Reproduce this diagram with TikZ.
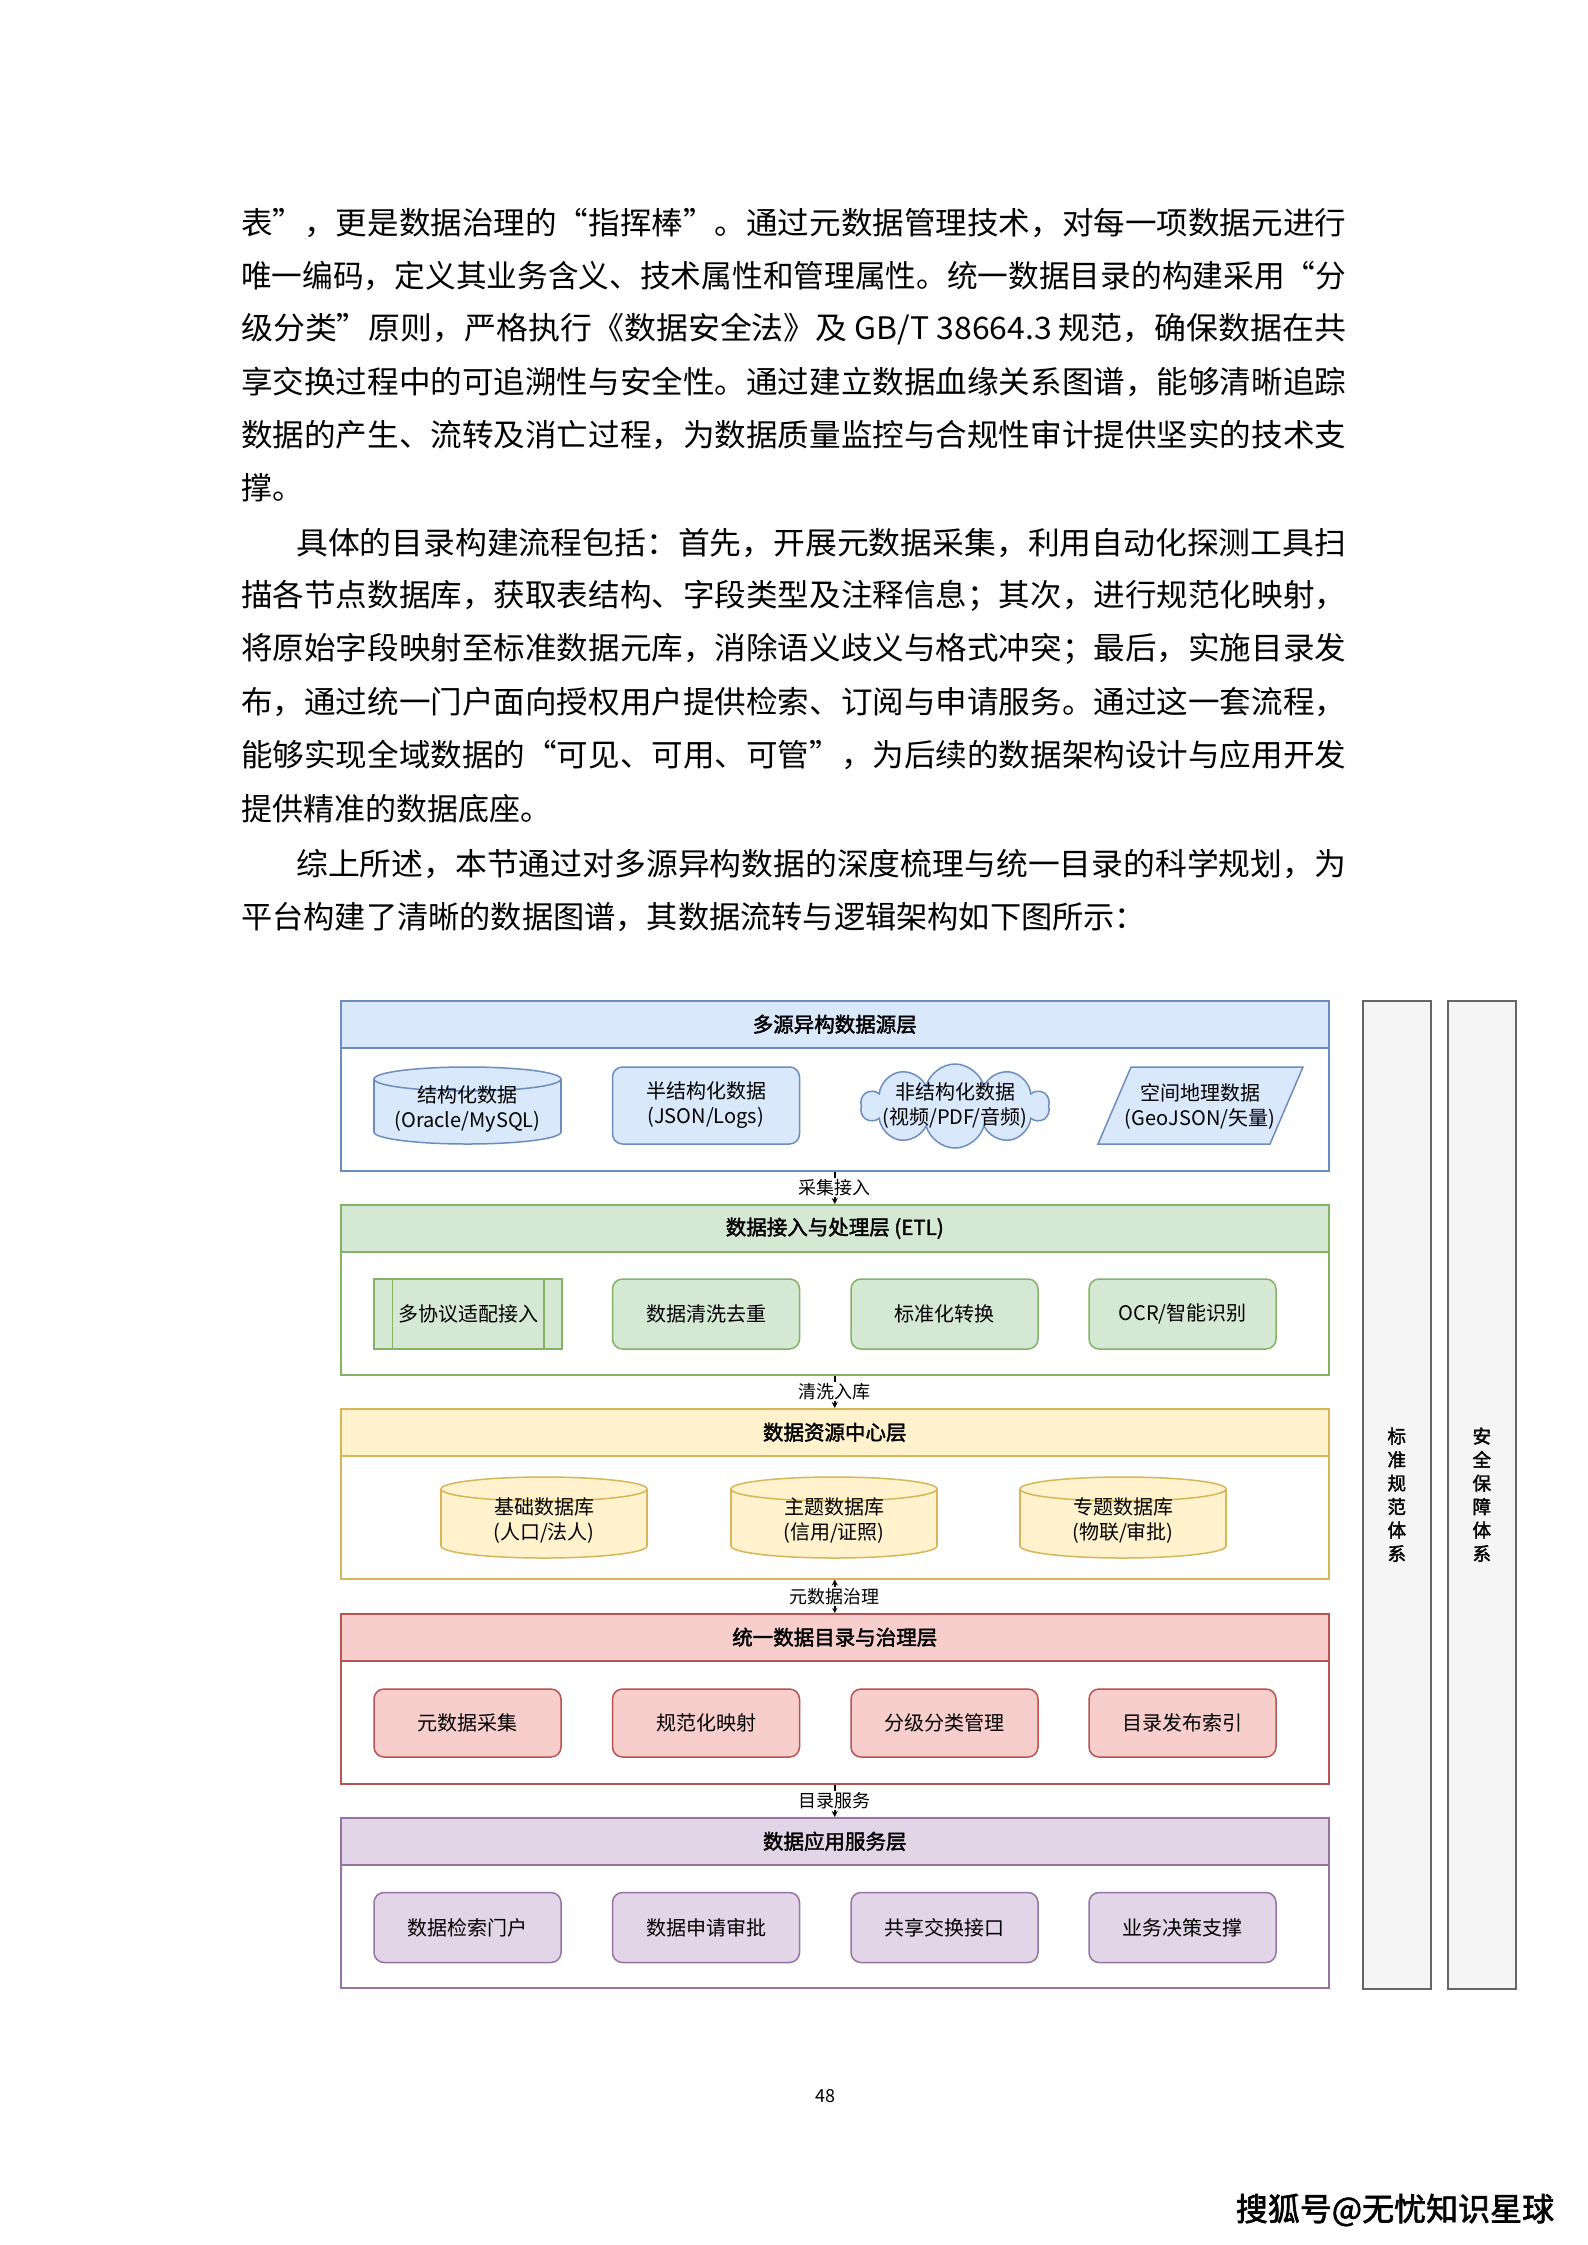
\documentclass[tikz,border=0pt]{standalone}
\usepackage{fontspec}
\usepackage{graphicx}
\usetikzlibrary{shapes.symbols,arrows.meta}
\setmainfont[AutoFakeBold=2]{Noto Sans CJK SC}
\definecolor{blueF}{HTML}{DAE8FC}\definecolor{blueD}{HTML}{6C8EBF}
\definecolor{greenF}{HTML}{D5E8D4}\definecolor{greenD}{HTML}{82B366}
\definecolor{yellowF}{HTML}{FFF2CC}\definecolor{yellowD}{HTML}{D6B656}
\definecolor{redF}{HTML}{F8CECC}\definecolor{redD}{HTML}{B85450}
\definecolor{purpleF}{HTML}{E1D5E7}\definecolor{purpleD}{HTML}{9673A6}
\definecolor{grayF}{HTML}{F5F5F5}\definecolor{grayD}{HTML}{666666}
\newcommand\bodysz{\fontsize{31}{31}\selectfont}
\newcommand\dgfont{\fontsize{20}{25}\selectfont}
\newcommand\hdfont{\fontsize{20.5}{24}\selectfont\bfseries}
\newcommand\lbfont{\fontsize{18}{20}\selectfont}
\newcommand\sbfont{\fontsize{18.5}{23.5}\selectfont\bfseries}
\newcommand\mycyl[8]{%
  \filldraw[fill=#6,draw=#7,line width=1.5pt] (#2,{#3+#5/2-12}) ellipse [x radius={#4/2}, y radius=12];
  \fill[#6] ({#2-#4/2},{#3-#5/2+12}) rectangle ({#2+#4/2},{#3+#5/2-12});
  \draw[#7,line width=1.5pt] ({#2-#4/2},{#3-#5/2+12}) -- ({#2-#4/2},{#3+#5/2-12})
        ({#2+#4/2},{#3-#5/2+12}) -- ({#2+#4/2},{#3+#5/2-12});
  \filldraw[fill=#6,draw=#7,line width=1.5pt] (#2,{#3-#5/2+12}) ellipse [x radius={#4/2}, y radius=12];
  \node[font=\dgfont, align=center, inner sep=0] (#1) at (#2,{#3+3}) {#8};}
\tikzset{
  lay/.style={draw=#1, fill=white, line width=1.5pt, minimum width=988pt, minimum height=170pt, anchor=north west, inner sep=0},
  hdr/.style 2 args={draw=#1, fill=#2, line width=1.5pt, minimum width=988pt, minimum height=47pt, anchor=north west, inner sep=0, font=\hdfont},
  rbox/.style 2 args={draw=#1, fill=#2, line width=1.5pt, rounded corners=10pt, minimum width=187pt, minimum height=70pt, font=\dgfont, align=center, inner sep=0},
  conn/.style={line width=1.5pt, -{Stealth[length=6pt,width=6pt]}},
  conn2/.style={line width=1.5pt, {Stealth[length=6pt,width=6pt]}-{Stealth[length=5pt,width=5pt]}},
  clabel/.style={fill=white, inner sep=1pt, font=\lbfont},
  sidebar/.style={draw=grayD, fill=grayF, line width=1.5pt, minimum width=68pt, minimum height=988pt, anchor=north west, inner sep=0},
  bline/.style={anchor=west, inner sep=0, font=\bodysz},
}
\begin{document}
\begin{tikzpicture}[x=1pt,y=-1pt]
\useasboundingbox (0,0) rectangle (1587,2245);
\fill[white] (0,0) rectangle (1587,2245);
% ---- body text ----
\node[bline] (t1) at (241,223) {\resizebox{1105pt}{\height}{表”，更是数据治理的“指挥棒”。通过元数据管理技术，对每一项数据元进行}};
\node[bline] (t2) at (241,276) {\resizebox{1105pt}{\height}{唯一编码，定义其业务含义、技术属性和管理属性。统一数据目录的构建采用“分}};
\node[bline] (t3) at (241,329) {\resizebox{1105pt}{\height}{级分类”原则，严格执行《数据安全法》及 GB/T 38664.3 规范，确保数据在共}};
\node[bline] (t4) at (241,382) {\resizebox{1105pt}{\height}{享交换过程中的可追溯性与安全性。通过建立数据血缘关系图谱，能够清晰追踪}};
\node[bline] (t5) at (241,435) {\resizebox{1105pt}{\height}{数据的产生、流转及消亡过程，为数据质量监控与合规性审计提供坚实的技术支}};
\node[bline] (t6) at (241,488) {撑。};
\node[bline] (t7) at (296,543) {\resizebox{1050pt}{\height}{具体的目录构建流程包括：首先，开展元数据采集，利用自动化探测工具扫}};
\node[bline] (t8) at (241,596) {\resizebox{1105pt}{\height}{描各节点数据库，获取表结构、字段类型及注释信息；其次，进行规范化映射，}};
\node[bline] (t9) at (241,649) {\resizebox{1105pt}{\height}{将原始字段映射至标准数据元库，消除语义歧义与格式冲突；最后，实施目录发}};
\node[bline] (t10) at (241,702) {\resizebox{1105pt}{\height}{布，通过统一门户面向授权用户提供检索、订阅与申请服务。通过这一套流程，}};
\node[bline] (t11) at (241,755) {\resizebox{1105pt}{\height}{能够实现全域数据的“可见、可用、可管”，为后续的数据架构设计与应用开发}};
\node[bline] (t12) at (241,809) {提供精准的数据底座。};
\node[bline] (t13) at (296,864) {\resizebox{1050pt}{\height}{综上所述，本节通过对多源异构数据的深度梳理与统一目录的科学规划，为}};
\node[bline] (t14) at (241,917) {\resizebox{905pt}{\height}{平台构建了清晰的数据图谱，其数据流转与逻辑架构如下图所示：}};
% ---- side bars ----
\node[sidebar] (B1) at (1362,1000) {};
\node[sidebar] (B2) at (1447,1000) {};
\node[font=\sbfont, align=center, inner sep=0] (B1t) at (B1.center) {标\\准\\规\\范\\体\\系};
\node[font=\sbfont, align=center, inner sep=0] (B2t) at (B2.center) {安\\全\\保\\障\\体\\系};
% ---- layer 1 ----
\node[lay=blueD] (L1) at (340,1000) {};
\node[hdr={blueD}{blueF}] (H1) at (340,1000) {多源异构数据源层};
\mycyl{S1}{467.5}{1105.5}{187}{77}{blueF}{blueD}{结构化数据\\(Oracle/MySQL)}
\node[rbox={blueD}{blueF}, minimum height=77pt] (S2) at (706,1105.5) {半结构化数据\\(JSON/Logs)};
\node[cloud, cloud puffs=10, aspect=2.2, draw=blueD, fill=blueF, line width=1.5pt, minimum width=188pt, minimum height=84pt, inner sep=0] (S3c) at (955,1106) {};
\node[font=\dgfont, align=center, inner sep=0] (S3) at (955,1106) {非结构化数据\\(视频/PDF/音频)};
\filldraw[fill=blueF, draw=blueD, line width=1.5pt] (1131,1067) -- (1303,1067) -- (1270,1144) -- (1098,1144) -- cycle;
\node[font=\dgfont, align=center, inner sep=0] (S4) at (1200,1106) {空间地理数据\\(GeoJSON/矢量)};
% ---- layer 2 ----
\node[lay=greenD] (L2) at (340,1204) {};
\node[hdr={greenD}{greenF}] (H2) at (340,1204) {数据接入与处理层 (ETL)};
\node[draw=greenD, fill=greenF, line width=1.5pt, minimum width=188pt, minimum height=70pt, font=\dgfont, inner sep=0] (E1) at (468,1314) {多协议适配接入};
\draw[greenD, line width=1.5pt] ([xshift=19pt]E1.north west) -- ([xshift=19pt]E1.south west)
      ([xshift=-19pt]E1.north east) -- ([xshift=-19pt]E1.south east);
\node[rbox={greenD}{greenF}] (E2) at (706,1314) {数据清洗去重};
\node[rbox={greenD}{greenF}] (E3) at (944.5,1314) {标准化转换};
\node[rbox={greenD}{greenF}] (E4) at (1182.5,1314) {OCR/智能识别};
% ---- layer 3 ----
\node[lay=yellowD] (L3) at (340,1408) {};
\node[hdr={yellowD}{yellowF}] (H3) at (340,1408) {数据资源中心层};
\mycyl{R1}{544}{1517.5}{206}{81}{yellowF}{yellowD}{基础数据库\\(人口/法人)}
\mycyl{R2}{834}{1517.5}{206}{81}{yellowF}{yellowD}{主题数据库\\(信用/证照)}
\mycyl{R3}{1123}{1517.5}{206}{81}{yellowF}{yellowD}{专题数据库\\(物联/审批)}
% ---- layer 4 ----
\node[lay=redD] (L4) at (340,1613) {};
\node[hdr={redD}{redF}] (H4) at (340,1613) {统一数据目录与治理层};
\node[rbox={redD}{redF}, minimum height=68pt] (G1) at (467.5,1723) {元数据采集};
\node[rbox={redD}{redF}, minimum height=68pt] (G2) at (706,1723) {规范化映射};
\node[rbox={redD}{redF}, minimum height=68pt] (G3) at (944.5,1723) {分级分类管理};
\node[rbox={redD}{redF}, minimum height=68pt] (G4) at (1182.5,1723) {目录发布索引};
% ---- layer 5 ----
\node[lay=purpleD] (L5) at (340,1817) {};
\node[hdr={purpleD}{purpleF}] (H5) at (340,1817) {数据应用服务层};
\node[rbox={purpleD}{purpleF}] (A1) at (467.5,1927.5) {数据检索门户};
\node[rbox={purpleD}{purpleF}] (A2) at (706,1927.5) {数据申请审批};
\node[rbox={purpleD}{purpleF}] (A3) at (944.5,1927.5) {共享交换接口};
\node[rbox={purpleD}{purpleF}] (A4) at (1182.5,1927.5) {业务决策支撑};
% ---- connectors ----
\draw[conn] (L1.south) -- node[clabel] {采集接入} (L2.north);
\draw[conn] (L2.south) -- node[clabel] {清洗入库} (L3.north);
\draw[conn2] (L3.south) -- node[clabel] {元数据治理} (L4.north);
\draw[conn] (L4.south) -- node[clabel] {目录服务} (L5.north);
% ---- footer ----
\node[font=\fontsize{18}{20}\selectfont, inner sep=0] (pg) at (825,2096) {48};
\node[font=\fontsize{32}{34}\selectfont\bfseries, inner sep=0] (wm) at (1395,2210) {搜狐号@无忧知识星球};
\end{tikzpicture}
\end{document}
